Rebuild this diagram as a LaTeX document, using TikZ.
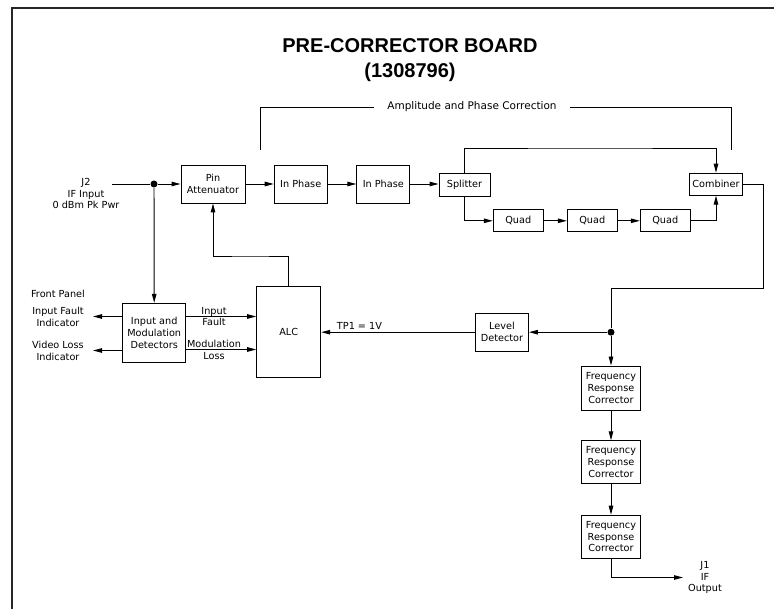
\documentclass[tikz,border=0pt]{standalone}
\usepackage{fontspec}
\setmainfont{DejaVu Sans}
\newfontfamily\titlefont{Liberation Sans}
\usetikzlibrary{arrows.meta}
\begin{document}
\begin{tikzpicture}[x=1pt,y=-1pt,line width=0.95pt,
  every node/.style={font=\fontsize{9.7}{11.8}\selectfont, align=center, inner sep=0pt},
  blk/.style={draw, line width=0.95pt, minimum width=#1},
  arr/.style={-{Triangle[length=9pt,width=4.5pt]}},
  dotc/.style={circle, fill=black, minimum size=7pt, inner sep=0pt},
  ttl/.style={font=\titlefont\bfseries\fontsize{20}{24}\selectfont}]
\useasboundingbox (0,0) rectangle (774,609);
% frame
\draw[line width=1.3pt, black!85] (774,8) -- (12,8) -- (12,609);
% title
\node[ttl] (title) at (410,45.5) {PRE-CORRECTOR BOARD};
\node[ttl] (num) at (410,72.5) {(1308796)};
% amplitude bracket
\node[font=\fontsize{10.5}{12}\selectfont, inner xsep=13pt] (amp) at (472,107) {Amplitude and Phase Correction};
\coordinate (bl) at (260,150);
\coordinate (br) at (731,150);
\draw (bl) |- (amp.west);
\draw (br) |- (amp.east);
% blocks
\node[blk=64pt, minimum height=38pt] (pin) at (213,184) {Pin\\Attenuator};
\node[blk=53pt, minimum height=38pt] (ip1) at (300.7,184) {In Phase};
\node[blk=53pt, minimum height=38pt] (ip2) at (383.3,184) {In Phase};
\node[blk=51pt, minimum height=23pt] (split) at (464.5,184.5) {Splitter};
\node[blk=53pt, minimum height=22pt] (comb) at (716,184.2) {Combiner};
\node[blk=50pt, minimum height=22pt] (q1) at (518.3,220.8) {Quad};
\node[blk=50pt, minimum height=22pt] (q2) at (592.3,220.8) {Quad};
\node[blk=50pt, minimum height=22pt] (q3) at (665.3,220.8) {Quad};
\node[blk=64pt, minimum height=91pt] (alc) at (288.7,332) {ALC};
\node[blk=63pt, minimum height=59pt] (det) at (154.2,332.8) {Input and\\Modulation\\Detectors};
\node[blk=53pt, minimum height=38pt] (lev) at (502,332.2) {Level\\Detector};
\node[blk=59pt, minimum height=44pt] (fr1) at (611,388) {Frequency\\Response\\Corrector};
\node[blk=59pt, minimum height=43pt] (fr2) at (611,462.3) {Frequency\\Response\\Corrector};
\node[blk=59pt, minimum height=43pt] (fr3) at (611,536.7) {Frequency\\Response\\Corrector};
% texts
\node (j2) at (86,193.5) {J2\\IF Input\\0 dBm Pk Pwr};
\node (j1) at (705,577.5) {J1\\IF\\Output};
\node (fp) at (58,294.3) {Front Panel};
\node (ifi) at (58,317.2) {Input Fault\\Indicator};
\node (vli) at (58,350.8) {Video Loss\\Indicator};
\node[anchor=west] (tp1) at (336.5,326) {TP1 = 1V};
% coordinates
\coordinate (jin) at (112,184);
\node[dotc] (n1) at (154,184) {};
\node[dotc] (n2) at (611,332.2) {};
\coordinate (ctop) at (590,148);
\coordinate (c2) at (763,288);
\coordinate (c3) at (250,256);
\coordinate (jout) at (683,577.5);
\coordinate (ifl) at (93,316.5);
\coordinate (vll) at (93,350.5);
\coordinate (f1) at (220,316.5);
\coordinate (f2) at (220,349.5);
% main path
\draw (jin) -- (n1);
\draw[arr] (n1) -- (pin.west);
\draw[arr] (pin) -- (ip1);
\draw[arr] (ip1) -- (ip2);
\draw[arr] (ip2.east) -- (split.west |- ip2.east);
\draw[arr] (split.north) |- (ctop) -| (comb.north);
\draw[arr] (split.south) |- (q1.west);
\draw[arr] (q1) -- (q2);
\draw[arr] (q2) -- (q3);
\draw[arr] (q3.east) -| (comb.south);
\draw (comb.east) -| (c2) -| (n2);
\draw[arr] (n2) -- (fr1.north);
\draw[arr] (n2) -- (lev.east);
\draw[arr] (lev.west) -- (alc.east |- lev.west);
\draw[arr] (fr1) -- (fr2);
\draw[arr] (fr2) -- (fr3);
\draw[arr] (fr3.south) |- (jout);
% feedback
\draw[arr] (alc.north) |- (c3) -| (pin.south);
\draw[arr] (n1) -- (det.north);
% detector outputs
\draw[arr] (det.east |- f1) -- (alc.west |- f1);
\draw[arr] (det.east |- f2) -- (alc.west |- f2);
\node (inf) at (214,316.5) {Input\\Fault};
\node (modl) at (214,349.5) {Modulation\\Loss};
\draw[arr] (det.west |- ifl) -- (ifl);
\draw[arr] (det.west |- vll) -- (vll);
\end{tikzpicture}
\end{document}
